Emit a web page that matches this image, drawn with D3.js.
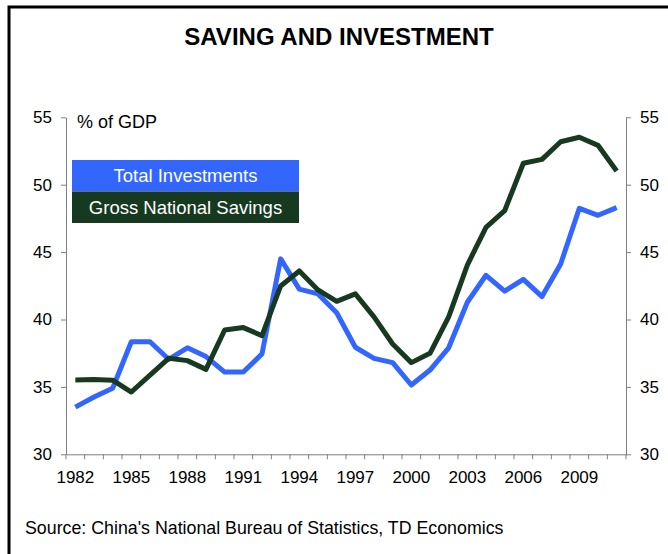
<!DOCTYPE html>
<html lang="en">
  <head>
    <meta charset="utf-8" />
    <title>Saving and Investment</title>
    <script src="https://cdnjs.cloudflare.com/ajax/libs/d3/7.8.5/d3.min.js"></script>
    <style>
      body { margin: 0; background: #fff; }
      text { font-family: "Liberation Sans", Arial, sans-serif; }
    </style>
  </head>
  <body>
    <div id="chart"></div>
    <script>
    // data, % of GDP
    var years = d3.range(1982, 2012);
    var investment = [33.5, 34.25, 34.9, 38.35, 38.35, 37.05, 37.9, 37.25, 36.1, 36.1,
                      37.45, 44.5, 42.25, 41.9, 40.5, 37.94, 37.12, 36.8, 35.14, 36.25,
                      37.9, 41.28, 43.28, 42.1, 42.98, 41.7, 44.12, 48.25, 47.73, 48.3];
    var savings = [35.51, 35.54, 35.5, 34.62, 35.88, 37.12, 36.95, 36.3, 39.22, 39.4,
                   38.8, 42.49, 43.6, 42.19, 41.35, 41.9, 40.2, 38.18, 36.8, 37.49,
                   40.2, 44.04, 46.84, 48.07, 51.59, 51.88, 53.19, 53.52, 52.92, 51.02];
    var yTicks = [30, 35, 40, 45, 50, 55];
    var seriesNames = ["Total Investments", "Gross National Savings"];
    var colors = ["#3366ff", "#17391f"];

    var width = 668, height = 554;
    var svg = d3.select("#chart").append("svg")
      .attr("width", width)
      .attr("height", height);

    // frame: top and left edges only
    svg.append("path")
      .attr("d", "M9,554 V7 H668")
      .attr("fill", "none")
      .attr("stroke", "#000")
      .attr("stroke-width", 3);

    svg.append("text")
      .attr("x", 339).attr("y", 45)
      .attr("text-anchor", "middle")
      .style("font-size", "24px")
      .style("font-weight", "bold")
      .text("SAVING AND INVESTMENT");

    var x = d3.scaleBand().domain(years).range([66, 626]);
    var y = d3.scaleLinear().domain([30, 55]).range([454.3, 117.3]);

    var axisColor = "#7f7f7f";
    var tickFont = "17px";

    // left axis
    var gl = svg.append("g").attr("transform", "translate(66,0)")
      .call(d3.axisLeft(y).tickValues(yTicks).tickSize(5).tickSizeOuter(0).tickPadding(9));
    // right axis
    var gr = svg.append("g").attr("transform", "translate(626,0)")
      .call(d3.axisRight(y).tickValues(yTicks).tickSize(5).tickSizeOuter(0).tickPadding(9));
    [gl, gr].forEach(function(g) {
      g.select(".domain").attr("stroke", axisColor);
      g.selectAll(".tick line").attr("stroke", axisColor);
      g.selectAll(".tick text").style("font-size", tickFont).attr("fill", "#000")
        .style("font-family", "'Liberation Sans', Arial, sans-serif");
    });

    // bottom axis: ticks between categories, labels every 3 years
    var gb = svg.append("g").attr("transform", "translate(0,454.3)")
      .call(d3.axisBottom(x)
        .tickValues(years.filter(function(d) { return (d - 1982) % 3 === 0; }))
        .tickSize(0).tickSizeOuter(0).tickPadding(17));
    gb.select(".domain").attr("stroke", axisColor);
    gb.selectAll(".tick text").style("font-size", tickFont).attr("fill", "#000")
      .style("font-family", "'Liberation Sans', Arial, sans-serif");
    gb.selectAll(".sep")
      .data(years.concat([2012]))
      .enter().append("line")
      .attr("x1", function(d, i) { return x.range()[0] + i * x.step(); })
      .attr("x2", function(d, i) { return x.range()[0] + i * x.step(); })
      .attr("y1", 0).attr("y2", 5)
      .attr("stroke", axisColor);

    svg.append("text")
      .attr("x", 77).attr("y", 128)
      .style("font-size", "18px")
      .text("% of GDP");

    var line = d3.line()
      .x(function(d, i) { return x(years[i]) + x.bandwidth() / 2; })
      .y(function(d) { return y(d); });

    [investment, savings].forEach(function(s, i) {
      svg.append("path")
        .datum(s)
        .attr("d", line)
        .attr("fill", "none")
        .attr("stroke", colors[i])
        .attr("stroke-width", 5)
        .attr("stroke-linejoin", "round");
    });

    // legend boxes
    var lg = svg.append("g").attr("transform", "translate(72,160)");
    lg.selectAll("rect")
      .data(seriesNames)
      .enter().append("rect")
      .attr("x", 0)
      .attr("y", function(d, i) { return i * 31.5; })
      .attr("width", 227)
      .attr("height", 31.5)
      .attr("fill", function(d, i) { return colors[i]; });
    lg.selectAll("text")
      .data(seriesNames)
      .enter().append("text")
      .attr("x", 113.5)
      .attr("y", function(d, i) { return i * 31.5 + 22; })
      .attr("text-anchor", "middle")
      .attr("fill", "#fff")
      .style("font-size", "18.5px")
      .text(function(d) { return d; });

    svg.append("text")
      .attr("x", 25).attr("y", 534)
      .style("font-size", "17.8px")
      .text("Source: China's National Bureau of Statistics, TD Economics");
    </script>
  </body>
</html>
